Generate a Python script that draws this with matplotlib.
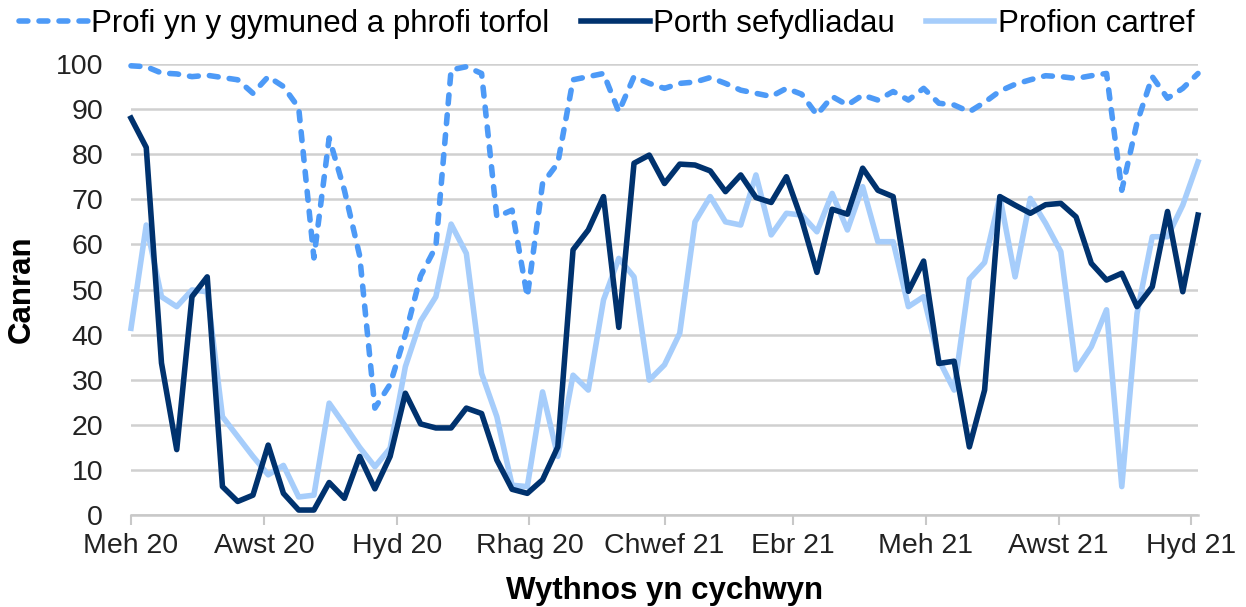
import matplotlib
matplotlib.use('Agg')
import matplotlib.pyplot as plt
import pandas as pd

# weekly data, week commencing 1 June 2020
weeks = pd.date_range('2020-06-01', periods=71, freq='7D')

profi_torfol = [99.6, 99.4, 98, 97.8, 97.2, 97.5, 97, 96.5, 93.5, 97.2,
                95, 90.3, 57, 83.6, 72, 57.5, 23.7, 29, 40, 53,
                59.5, 98.7, 99.4, 97.9, 66.1, 67.6, 48.4, 73.5, 78, 96.5,
                97.2, 97.9, 89.4, 97.2, 95.7, 94.6, 95.7, 96, 97, 95.7,
                94.2, 93.5, 92.8, 94.6, 93.3, 88.7, 92.8, 90.9, 93.1, 92,
                93.9, 92, 94.6, 91.3, 90.9, 89.4, 91.5, 94, 95.5, 96.5,
                97.4, 97.2, 96.8, 97.4, 97.9, 72, 87, 97.2, 92.4, 94.6,
                97.9]

porth_sefydliadau = [88, 81.5, 33.7, 14.5, 48.4, 52.8, 6.3, 3, 4.4, 15.5,
                     4.8, 1.1, 1.1, 7.2, 3.7, 13, 5.8, 13, 27, 20.2,
                     19.3, 19.3, 23.7, 22.5, 12.2, 5.7, 4.8, 7.8, 15.1, 58.8,
                     63.2, 70.6, 41.6, 78, 79.8, 73.5, 77.8, 77.6, 76.3, 71.7,
                     75.4, 70.4, 69.3, 75, 65.5, 53.8, 67.8, 66.7, 76.9, 72,
                     70.6, 49.6, 56.3, 33.6, 34.1, 15.1, 27.7, 70.6, 68.7, 66.9,
                     68.8, 69.1, 66.1, 55.8, 52.1, 53.6, 46.2, 50.6, 67.3, 49.5,
                     66.5]

profion_cartref = [41.4, 64.3, 48.4, 46.2, 49.9, 49.5, 21.8, 17.4, 13, 8.9,
                   11, 4, 4.4, 24.8, 20, 15, 10.7, 14.8, 32.9, 43,
                   48.4, 64.5, 58, 31.4, 21.8, 6.6, 6.3, 27.3, 13, 31,
                   27.7, 47.7, 56.9, 52.8, 29.9, 33.3, 40.3, 65, 70.6, 65,
                   64.3, 75.4, 62.1, 66.9, 66.5, 62.8, 71.3, 63.2, 72.8, 60.6,
                   60.6, 46.2, 48.4, 34.4, 27.7, 52.3, 56, 70.6, 52.8, 70.2,
                   64.7, 58.4, 32.2, 37.3, 45.5, 6.3, 44.7, 61.7, 61.7, 68.7,
                   78.3]

tick_dates = pd.to_datetime(['2020-06-01', '2020-08-01', '2020-10-01', '2020-12-01',
                             '2021-02-01', '2021-04-01', '2021-06-01', '2021-08-01',
                             '2021-10-01'])
tick_labels = ['Meh 20', 'Awst 20', 'Hyd 20', 'Rhag 20', 'Chwef 21', 'Ebr 21',
               'Meh 21', 'Awst 21', 'Hyd 21']

plt.rcParams['font.family'] = ['Liberation Sans', 'DejaVu Sans']

fig = plt.figure(figsize=(12.46, 6.07), dpi=100)
ax = fig.add_axes([131/1246, 1 - 515/607, (1198 - 131)/1246, (515 - 64)/607])

ax.plot(weeks, profi_torfol, color='#4d9af7', lw=4, ls=(0, (1.6, 2.0)),
        dash_capstyle='round', clip_on=False, zorder=3,
        label='Profi yn y gymuned a phrofi torfol')
ax.plot(weeks, porth_sefydliadau, color='#00326e', lw=4,
        solid_joinstyle='round', clip_on=False, zorder=3,
        label='Porth sefydliadau')
ax.plot(weeks, profion_cartref, color='#a6cdfb', lw=4,
        solid_joinstyle='round', clip_on=False, zorder=2,
        label='Profion cartref')

ax.set_ylim(0, 100)
ax.set_yticks(range(0, 101, 10))
ax.set_xlim(weeks[0], weeks[-1])
ax.set_xticks(tick_dates)
ax.set_xticklabels(tick_labels)

ax.grid(axis='y', color='#d0d0d0', lw=1.8)
ax.set_axisbelow(True)
for s in ['top', 'right', 'left']:
    ax.spines[s].set_visible(False)
ax.spines['bottom'].set_color('#c8c8c8')
ax.spines['bottom'].set_linewidth(1.8)
ax.tick_params(axis='y', length=0, labelsize=20.5, pad=20, colors='#222222')
ax.tick_params(axis='x', length=7, width=1.5, color='#c8c8c8', labelsize=20.5,
               pad=6, labelcolor='#222222')

ax.set_ylabel('Canran', fontsize=22.5, fontweight='bold', labelpad=14)
ax.set_xlabel('Wythnos yn cychwyn', fontsize=22.5, fontweight='bold', labelpad=12)

fig.legend(loc='upper center', bbox_to_anchor=(0.487, 1.032), ncol=3, frameon=False,
           fontsize=22.5, handlelength=2.2, handletextpad=0.1, columnspacing=1.0)

fig.savefig('out.png', dpi=100)
